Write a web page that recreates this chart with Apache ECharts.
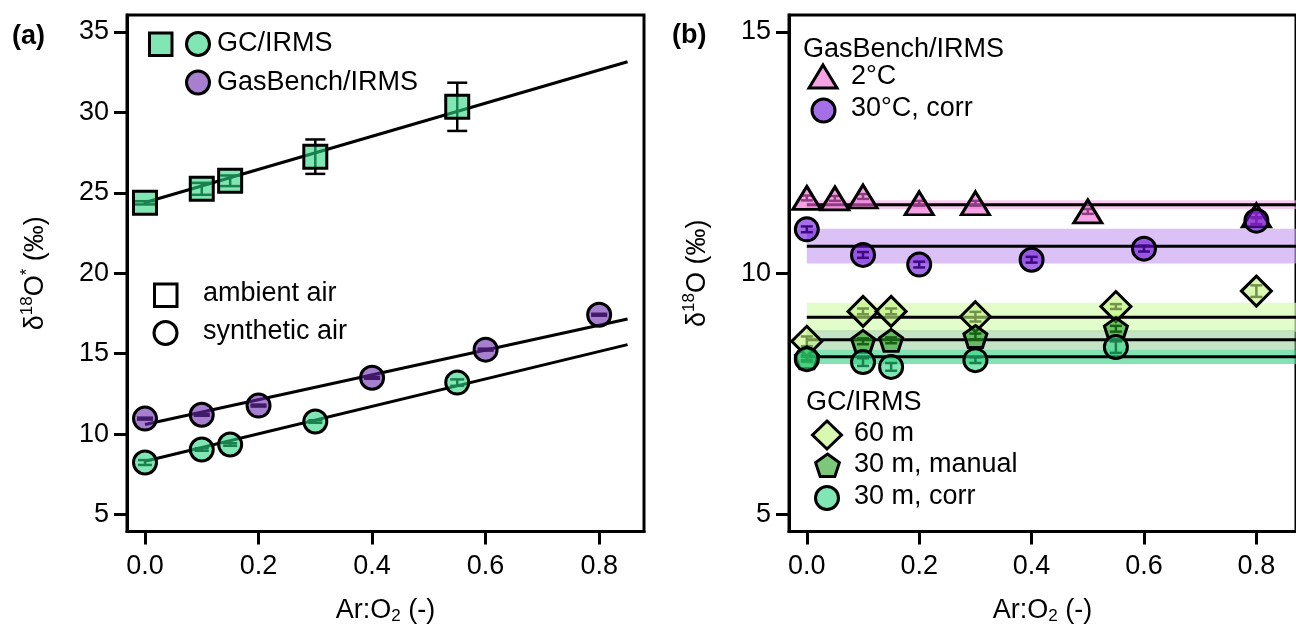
<!DOCTYPE html>
<html>
<head>
<meta charset="utf-8">
<script src="https://cdn.jsdelivr.net/npm/echarts@6/dist/echarts.min.js"></script>
<style>
html, body { margin: 0; padding: 0; background: #fff; }
#main { width: 1296px; height: 630px; }
</style>
</head>
<body>
<div id="main"></div>
<script>
// ---------- panel (a): delta18O* vs Ar:O2 ----------
var ratioAmbGC = [0, 0.1, 0.15, 0.3, 0.55];
var d18AmbGC   = [24.38, 25.25, 25.75, 27.25, 30.35];
var errAmbGC   = [0.1, 0.37, 0.33, 1.07, 1.5];

var ratioSynGB = [0, 0.1, 0.2, 0.4, 0.6, 0.8];
var d18SynGB   = [10.96, 11.2, 11.77, 13.5, 15.25, 17.42];
var errSynGB   = [0.06, 0.06, 0.06, 0.06, 0.06, 0.06];

var ratioSynGC = [0, 0.1, 0.15, 0.3, 0.55];
var d18SynGC   = [8.23, 9.04, 9.35, 10.78, 13.2];
var errSynGC   = [0.15, 0.08, 0.08, 0.08, 0.2];

// fitted lines, values read at both ends
var fitX      = [0, 0.85];
var fitAmbGC  = [24.4, 33.15];
var fitSynGB  = [10.59, 17.16];
var fitSynGC  = [8.31, 15.56];

var ticksA = [5, 10, 15, 20, 25, 30, 35];
var ticksX = [0, 0.2, 0.4, 0.6, 0.8];

// ---------- panel (b): delta18O vs Ar:O2 ----------
var ratio2C    = [0, 0.05, 0.1, 0.2, 0.3, 0.5, 0.8];
var d18GB2C    = [11.56, 11.55, 11.59, 11.45, 11.45, 11.28, 11.2];
var err2C      = [0.05, 0.05, 0.05, 0.05, 0.05, 0.05, 0.06];

var ratio30C   = [0, 0.1, 0.2, 0.4, 0.6, 0.8];
var d18GB30C   = [10.91, 10.38, 10.18, 10.28, 10.51, 11.09];
var err30C     = [0.06, 0.06, 0.06, 0.06, 0.06, 0.07];

var ratio60m   = [0, 0.1, 0.15, 0.3, 0.55, 0.8];
var d18GC60m   = [8.59, 9.21, 9.21, 9.1, 9.31, 9.63];
var err60m     = [0.1, 0.06, 0.06, 0.1, 0.05, 0.12];

var ratio30m       = [0, 0.1, 0.15, 0.3, 0.55];
var d18GC30mMan    = [8.25, 8.59, 8.61, 8.69, 8.85];
var err30mMan      = [0.05, 0.06, 0.06, 0.06, 0.06];
var d18GC30mCorr   = [8.22, 8.16, 8.06, 8.2, 8.47];
var err30mCorr     = [0.05, 0.08, 0.08, 0.06, 0.12];

// mean +- sd bands: 2C, 30C corr, 60 m, 30 m manual, 30 m corr
var meanB = [11.42, 10.56, 9.09, 8.62, 8.27];
var sdB   = [0.09, 0.36, 0.3, 0.2, 0.15];

var ticksBMajor = [5, 10, 15];
var ticksBMinor = [6, 7, 8, 9, 11, 12, 13, 14];

var xMaxB = 0.8705;
var FONT = 'Liberation Sans, Arial, sans-serif';
var LW = 3;

function pairs(xs, ys) {
    return xs.map(function (x, i) { return [x, ys[i]]; });
}
function triples(xs, ys, es) {
    return xs.map(function (x, i) { return [x, ys[i], es[i]]; });
}

function errBars(name, xi, yi, data, cap, z) {
    return {
        name: name, type: 'custom', xAxisIndex: xi, yAxisIndex: yi, z: z,
        data: data, silent: true,
        renderItem: function (params, api) {
            var x = api.value(0), y = api.value(1), e = api.value(2);
            var t = api.coord([x, y + e]);
            var b = api.coord([x, y - e]);
            var st = { stroke: '#000', lineWidth: 2.5 };
            return {
                type: 'group',
                children: [
                    { type: 'line', shape: { x1: t[0], y1: t[1], x2: b[0], y2: b[1] }, style: st },
                    { type: 'line', shape: { x1: t[0] - cap, y1: t[1], x2: t[0] + cap, y2: t[1] }, style: st },
                    { type: 'line', shape: { x1: b[0] - cap, y1: b[1], x2: b[0] + cap, y2: b[1] }, style: st }
                ]
            };
        }
    };
}

function marks(name, xi, yi, data, symbol, size, color, z) {
    return {
        name: name, type: 'scatter', xAxisIndex: xi, yAxisIndex: yi, z: z,
        data: data, symbol: symbol, symbolSize: size,
        itemStyle: { color: color, borderColor: '#000', borderWidth: LW, opacity: 1 }
    };
}

function fitLine(xi, yi, ys) {
    return {
        type: 'line', xAxisIndex: xi, yAxisIndex: yi, z: 2, silent: true,
        data: pairs(fitX, ys), symbol: 'none',
        lineStyle: { color: '#000', width: LW }
    };
}

var bandColors = ['rgba(244,170,228,0.6)', 'rgba(200,160,240,0.65)', 'rgba(214,252,180,0.7)',
                  'rgba(150,205,150,0.55)', 'rgba(80,215,150,0.7)'];

function meanLine(i) {
    return {
        type: 'line', xAxisIndex: 1, yAxisIndex: 1, z: 2, silent: true,
        data: [[0, meanB[i]], [xMaxB, meanB[i]]], symbol: 'none',
        lineStyle: { color: '#000', width: LW },
        markArea: {
            silent: true,
            itemStyle: { color: bandColors[i] },
            data: [[{ coord: [0, meanB[i] + sdB[i]] }, { coord: [xMaxB, meanB[i] - sdB[i]] }]]
        }
    };
}

var pentagon = 'path://M0,-1L0.951,-0.309L0.588,0.809L-0.588,0.809L-0.951,-0.309Z';

var cMint   = 'rgba(43,213,130,0.6)';
var cPurA   = 'rgba(108,42,175,0.6)';
var cPurB   = 'rgba(105,15,217,0.6)';
var cPink   = 'rgba(240,102,213,0.6)';
var cDiam   = 'rgba(192,243,123,0.6)';
var cPent   = 'rgba(37,162,33,0.6)';

var axisLineStyle = { show: true, onZero: false, lineStyle: { color: '#000', width: LW } };
var labelStyle = { color: '#000', fontSize: 27, fontFamily: FONT };

// ---------- legend graphics ----------
function txt(x, y, s, extra) {
    var st = { text: s, x: x, y: y, fill: '#000', font: '27px ' + FONT, verticalAlign: 'middle', align: 'left' };
    if (extra) { for (var k in extra) st[k] = extra[k]; }
    return { type: 'text', style: st, z: 20 };
}
function circ(cx, cy, r, fill) {
    return { type: 'circle', shape: { cx: cx, cy: cy, r: r }, style: { fill: fill, stroke: '#000', lineWidth: LW }, z: 20 };
}
function poly(pts, fill) {
    return { type: 'polygon', shape: { points: pts }, style: { fill: fill, stroke: '#000', lineWidth: LW }, z: 20 };
}
function pentPts(cx, cy, r) {
    var p = [[0, -1], [0.951, -0.309], [0.588, 0.809], [-0.588, 0.809], [-0.951, -0.309]];
    return p.map(function (q) { return [cx + q[0] * r, cy + q[1] * r]; });
}

var graphics = [
    txt(12, 37, '(a)', { font: 'bold 27px ' + FONT }),
    txt(672, 36, '(b)', { font: 'bold 27px ' + FONT }),
    // panel (a) legend
    { type: 'rect', shape: { x: 149.5, y: 33, width: 22.5, height: 22.5 }, style: { fill: '#80e6b4', stroke: '#000', lineWidth: LW }, z: 20 },
    circ(198, 44, 11.5, '#80e6b4'),
    txt(217, 44, 'GC/IRMS'),
    circ(198, 82.5, 11.5, '#a77fcf'),
    txt(217, 82.5, 'GasBench/IRMS'),
    { type: 'rect', shape: { x: 154.5, y: 284, width: 22.5, height: 22.5 }, style: { fill: '#fff', stroke: '#000', lineWidth: LW }, z: 20 },
    txt(203, 294, 'ambient air'),
    circ(165.5, 333, 11.5, '#fff'),
    txt(203, 332, 'synthetic air'),
    // panel (b) legend
    txt(803, 50, 'GasBench/IRMS'),
    poly([[823, 65], [837, 88], [809, 88]], '#f6a3e6'),
    txt(851, 77, '2°C'),
    circ(823.5, 110.5, 11.5, '#a56fe8'),
    txt(851, 109, '30°C, corr'),
    txt(806, 403, 'GC/IRMS'),
    poly([[827, 421], [841.5, 435], [827, 449], [812.5, 435]], '#d9f8b0'),
    txt(854, 434, '60 m'),
    poly(pentPts(827.5, 466.5, 12.5), '#7cc77a'),
    txt(854, 464.5, '30 m, manual'),
    circ(827, 498, 11.5, '#80e6b4'),
    txt(854, 497, '30 m, corr')
];

var nameRich = {
    a: { fontSize: 27, fontFamily: FONT, color: '#000', lineHeight: 34 },
    sup: { fontSize: 17, fontFamily: FONT, color: '#000', verticalAlign: 'top', lineHeight: 34, padding: [0, 0, 14, 0] },
    sub: { fontSize: 17, fontFamily: FONT, color: '#000', lineHeight: 34, padding: [12, 0, 0, 0] }
};

function xAxisFor(gi, xmax) {
    return {
        type: 'value', gridIndex: gi, min: -0.0317, max: xmax,
        axisLine: axisLineStyle,
        axisTick: { show: true, length: 13, customValues: ticksX, lineStyle: { color: '#000', width: LW } },
        axisLabel: Object.assign({ margin: 22, customValues: ticksX, formatter: function (v) { return v.toFixed(1); } }, labelStyle),
        splitLine: { show: false },
        name: '{a|Ar:O}{sub|2}{a| (-)}', nameLocation: 'middle', nameGap: 62,
        nameTextStyle: { rich: nameRich }
    };
}

var option = {
    backgroundColor: '#fff',
    animation: false,
    textStyle: { fontFamily: FONT },
    grid: [
        { left: 127, top: 15, width: 517, height: 517, show: true, borderColor: '#000', borderWidth: LW, backgroundColor: 'transparent' },
        { left: 789, top: 15, width: 512, height: 517, show: true, borderColor: '#000', borderWidth: LW, backgroundColor: 'transparent' }
    ],
    xAxis: [xAxisFor(0, 0.879), xAxisFor(1, xMaxB)],
    yAxis: [
        {
            type: 'value', gridIndex: 0, min: 3.94, max: 36.06,
            axisLine: axisLineStyle,
            axisTick: { show: true, length: 13, customValues: ticksA, lineStyle: { color: '#000', width: LW } },
            axisLabel: Object.assign({ margin: 18, customValues: ticksA }, labelStyle),
            splitLine: { show: false },
            name: '{a|δ}{sup|18}{a|O}{sup|*}{a| (‰)}', nameLocation: 'middle', nameGap: 74, nameRotate: 90,
            nameTextStyle: { rich: nameRich }
        },
        {
            type: 'value', gridIndex: 1, min: 4.65, max: 15.35,
            axisLine: axisLineStyle,
            axisTick: { show: true, length: 13, customValues: ticksBMajor, lineStyle: { color: '#000', width: LW } },
            axisLabel: Object.assign({ margin: 18, customValues: ticksBMajor }, labelStyle),
            splitLine: { show: false },
            name: '{a|δ}{sup|18}{a|O (‰)}', nameLocation: 'middle', nameGap: 74, nameRotate: 90,
            nameTextStyle: { rich: nameRich }
        },
        {
            type: 'value', gridIndex: 1, min: 4.65, max: 15.35,
            axisLine: { show: false, onZero: false },
            axisTick: { show: true, length: 8, customValues: ticksBMinor, lineStyle: { color: '#000', width: LW } },
            axisLabel: { show: false },
            splitLine: { show: false }
        }
    ],
    series: [
        // panel (a)
        fitLine(0, 0, fitAmbGC),
        fitLine(0, 0, fitSynGB),
        fitLine(0, 0, fitSynGC),
        errBars('errAmbGC', 0, 0, triples(ratioAmbGC, d18AmbGC, errAmbGC), 10, 3),
        errBars('errSynGB', 0, 0, triples(ratioSynGB, d18SynGB, errSynGB), 8, 3),
        errBars('errSynGC', 0, 0, triples(ratioSynGC, d18SynGC, errSynGC), 7, 3),
        marks('GC/IRMS ambient', 0, 0, pairs(ratioAmbGC, d18AmbGC), 'rect', 23, cMint, 5),
        marks('GasBench/IRMS synthetic', 0, 0, pairs(ratioSynGB, d18SynGB), 'circle', 23, cPurA, 5),
        marks('GC/IRMS synthetic', 0, 0, pairs(ratioSynGC, d18SynGC), 'circle', 23, cMint, 5),
        // panel (b)
        meanLine(0), meanLine(1), meanLine(2), meanLine(3), meanLine(4),
        errBars('err60m', 1, 1, triples(ratio60m, d18GC60m, err60m), 6, 3),
        errBars('err30mMan', 1, 1, triples(ratio30m, d18GC30mMan, err30mMan), 6, 3),
        errBars('err30mCorr', 1, 1, triples(ratio30m, d18GC30mCorr, err30mCorr), 6, 3),
        errBars('err2C', 1, 1, triples(ratio2C, d18GB2C, err2C), 6, 3),
        errBars('err30C', 1, 1, triples(ratio30C, d18GB30C, err30C), 6, 3),
        marks('60 m', 1, 1, pairs(ratio60m, d18GC60m), 'diamond', [30, 30], cDiam, 5),
        marks('30 m, manual', 1, 1, pairs(ratio30m, d18GC30mMan), pentagon, [23, 22], cPent, 6),
        marks('30 m, corr', 1, 1, pairs(ratio30m, d18GC30mCorr), 'circle', 23, cMint, 7),
        marks('2°C', 1, 1, pairs(ratio2C, d18GB2C), 'triangle', [28, 23], cPink, 5),
        marks('30°C, corr', 1, 1, pairs(ratio30C, d18GB30C), 'circle', 23, cPurB, 6)
    ],
    graphic: graphics
};

var chart = echarts.init(document.getElementById('main'), null, { renderer: 'canvas' });
chart.setOption(option);
</script>
</body>
</html>
